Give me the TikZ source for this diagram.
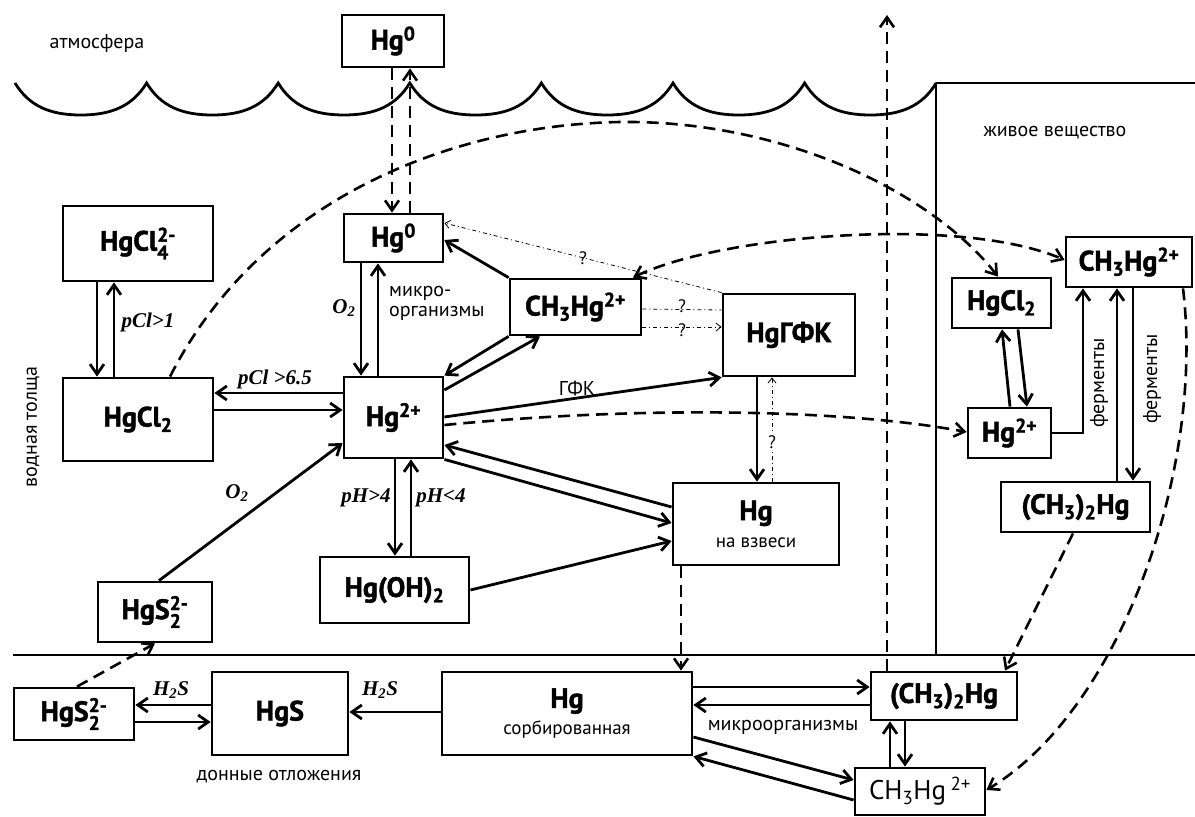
\documentclass[tikz,border=0pt]{standalone}
\usepackage{amsmath}
\usepackage{fontspec}
\setmainfont{PT Sans}[BoldFeatures={FakeBold=1.5}]
\newfontfamily\condfont{Liberation Serif}
\usetikzlibrary{arrows.meta}

\newcommand{\chup}[1]{$^{\text{#1}}$}
\newcommand{\chdn}[1]{$_{\text{#1}}$}
\newcommand{\chupdn}[2]{$^{\text{#1}}_{\text{#2}}$}
\newcommand{\boxnote}[1]{{\fontsize{19}{21}\selectfont\mdseries #1}}

\begin{document}
\begin{tikzpicture}[x=1pt, y=-1pt,
  >={Straight Barb[length=10pt,width=14pt]},
  box/.style={draw, line width=2.8pt, inner sep=0pt, align=center, font=\fontsize{28}{30}\selectfont\bfseries},
  lbl/.style={inner sep=1pt, font=\fontsize{20}{22}\selectfont},
  cond/.style={inner sep=1pt, font=\condfont\fontsize{21}{23}\selectfont\bfseries\itshape},
  qm/.style={inner sep=1pt, font=\fontsize{18}{20}\selectfont},
  arr/.style={->, line width=2.8pt},
  dsh/.style={->, line width=2.6pt, dash pattern=on 12pt off 7pt},
  dot/.style={line width=0.8pt, dash pattern=on 4pt off 3pt on 1pt off 3pt},
  dotarr/.style={dot, -{Straight Barb[length=5pt,width=8pt]}}
]
\useasboundingbox (0,0) rectangle (1195,817);

\draw[line width=2.8pt] (15,83) \foreach \i in {0,...,6} { .. controls ({29+131.6*\i},106) and ({50+131.6*\i},115) .. ({80.8+131.6*\i},115) .. controls ({111.6+131.6*\i},115) and ({132.6+131.6*\i},106) .. ({146.6+131.6*\i},83) };
\draw[line width=2pt] (936,83) -- (1195,83) (936,83) -- (936,655);
\draw[line width=2.8pt] (13,655) -- (1195,655);

\node[lbl] (atm) at (97,43) {атмосфера};
\node[lbl] (live) at (1055,133) {живое вещество};
\node[lbl, rotate=90] (water) at (33,427) {водная толща};
\node[lbl] (sed) at (279,777) {донные отложения};

\node[box, minimum width=102pt, minimum height=52pt] (hgtop) at (393,41) {Hg\chup{0}};
\node[box, minimum width=99pt, minimum height=48pt] (hgzero) at (393.5,238) {Hg\chup{0}};
\node[box, minimum width=150pt, minimum height=75pt] (clfour) at (138,243.5) {HgCl\chupdn{2-}{4}};
\node[box, minimum width=150pt, minimum height=83pt] (cltwo) at (138,419.5) {HgCl\chdn{2}};
\node[box, minimum width=99pt, minimum height=81pt] (hgtwo) at (393.5,417.5) {Hg\chup{2+}};
\node[box, minimum width=131pt, minimum height=56pt] (mehg) at (575.5,307) {CH\chdn{3}Hg\chup{2+}};
\node[box, minimum width=132pt, minimum height=82pt] (hgfk) at (789,335) {HgГФК};
\node[box, minimum width=166pt, minimum height=82pt] (hgsusp) at (756,524) {Hg\\[-3pt]\boxnote{на взвеси}};
\node[box, minimum width=149pt, minimum height=66pt] (hgoh) at (394.5,590) {Hg(OH)\chdn{2}};
\node[box, minimum width=114pt, minimum height=60pt] (hgsw) at (155,612) {HgS\chupdn{2-}{2}};
\node[box, minimum width=120pt, minimum height=52pt] (hgsb) at (74,714) {HgS\chupdn{2-}{2}};
\node[box, minimum width=136pt, minimum height=83pt] (hgs) at (280,713.5) {HgS};
\node[box, minimum width=250pt, minimum height=83pt] (hgsorb) at (567,713.5) {Hg\\[-3pt]\boxnote{сорбированная}};
\node[box, minimum width=146pt, minimum height=48pt] (dmhgb) at (944,696) {(CH\chdn{3})\chdn{2}Hg};
\node[box, minimum width=130pt, minimum height=47pt, font=\fontsize{27}{29}\selectfont] (mehgb) at (920,791.5) {CH\chdn{3}Hg\,\chup{2+}};
\node[box, minimum width=99pt, minimum height=50pt] (clr) at (1001.5,303) {HgCl\chdn{2}};
\node[box, minimum width=126pt, minimum height=50pt] (mehgr) at (1129,262) {CH\chdn{3}Hg\chup{2+}};
\node[box, minimum width=83pt, minimum height=50pt] (hgr) at (1009.5,433) {Hg\chup{2+}};
\node[box, minimum width=149pt, minimum height=50pt] (dmhgr) at (1075.5,507) {(CH\chdn{3})\chdn{2}Hg};
\coordinate (sky) at (887,15);

\node[cond] (c1) at (148,322) {pCl>1};
\node[cond] (c2) at (275,379) {pCl >6.5};
\node[cond] (c3) at (344,308) {O\textsubscript{2}};
\node[cond] (c4) at (237,493) {O\textsubscript{2}};
\node[cond] (c5) at (366,498) {pH>4};
\node[cond] (c6) at (441,498) {pH<4};
\node[cond] (c7) at (171,690) {H\textsubscript{2}S};
\node[cond] (c8) at (380,690) {H\textsubscript{2}S};
\node[lbl, anchor=west, align=left, font=\fontsize{20}{20}\selectfont] (micro) at (388,303) {микро-\\организмы};
\node[lbl] (micro2) at (783,727) {микроорганизмы};
\node[lbl] (gfk) at (577,388) {ГФК};
\node[lbl, rotate=90] (ferm1) at (1099,383) {ферменты};
\node[lbl, rotate=90] (ferm2) at (1152,379) {ферменты};

\draw[dsh] (hgtop.south -| 392,0) -- (hgzero.north -| 392,0);
\draw[dsh] (hgzero.north -| 410,0) -- (hgtop.south -| 410,0);
\draw[arr] (clfour.south -| 97,0) -- (cltwo.north -| 97,0);
\draw[arr] (cltwo.north -| 114,0) -- (clfour.south -| 114,0);
\draw[arr] (hgtwo.west |- 0,393) -- (cltwo.east |- 0,393);
\draw[arr] (cltwo.east |- 0,410) -- (hgtwo.west |- 0,410);
\draw[arr] (hgzero.south -| 361,0) -- (hgtwo.north -| 361,0);
\draw[arr] (hgtwo.north -| 378,0) -- (hgzero.south -| 378,0);
\draw[arr] (mehg.north west) -- (hgzero.east |- 0,240);
\draw[arr] (mehg.south west) -- (hgtwo.north east);
\draw[arr] (hgtwo.east |- 0,390) -- (mehg.south -| 540,0);
\draw[arr] (hgtwo.east |- 0,417) -- (hgfk.south west);
\draw[dotarr] (hgfk.north west) -- (hgzero.east |- 0,223) node[qm, midway] {?};
\draw[dot] (mehg.east |- 0,309) -- (hgfk.west |- 0,310) node[qm, midway, yshift=3pt] {?};
\draw[dotarr] (mehg.east |- 0,327) -- (hgfk.west |- 0,327) node[qm, midway, yshift=-3pt] {?};
\draw[arr] (hgfk.south -| 757,0) -- (hgsusp.north -| 757,0);
\draw[dotarr] (hgsusp.north -| 772,0) -- (hgfk.south -| 772,0) node[qm, pos=0.38, fill=white] {?};
\draw[arr] (hgsusp.west |- 0,507) -- (hgtwo.east |- 0,445);
\draw[arr] (hgtwo.south east) -- (hgsusp.west |- 0,523);
\draw[arr] (hgoh.east |- 0,590) -- (hgsusp.west |- 0,541);
\draw[arr] (hgtwo.south -| 395,0) -- (hgoh.north -| 395,0);
\draw[arr] (hgoh.north -| 411,0) -- (hgtwo.south -| 411,0);
\draw[arr] (hgsw.north -| 159,0) -- (hgtwo.west |- 0,443);
\draw[dsh] (hgsb.north -| 77,0) -- (hgsw.south -| 155,0);
\draw[arr] (hgs.west |- 0,705) -- (hgsb.east |- 0,705);
\draw[arr] (hgsb.east |- 0,722) -- (hgs.west |- 0,722);
\draw[arr] (hgsorb.west |- 0,712) -- (hgs.east |- 0,712);
\draw[dsh] (hgsusp.south -| 681,0) -- (hgsorb.north -| 681,0);
\draw[arr] (hgsorb.east |- 0,687) -- (dmhgb.west |- 0,687);
\draw[arr] (dmhgb.west |- 0,705) -- (hgsorb.east |- 0,705);
\draw[arr] (hgsorb.east |- 0,737) -- (mehgb.west |- 0,780);
\draw[arr] (mehgb.west |- 0,800) -- (hgsorb.south east);
\draw[arr] (mehgb.north -| 890,0) -- (dmhgb.south -| 890,0);
\draw[arr] (dmhgb.south -| 905,0) -- (mehgb.north -| 905,0);
\draw[dsh] (dmhgb.north -| 887,0) -- (sky);
\draw[dsh] (dmhgr.south -| 1073,0) -- (dmhgb.north -| 1005,0);
\draw[dsh] (mehgr.south -| 1183,0) .. controls (1205,470) and (1120,710) .. (mehgb.east |- 0,790);
\draw[dsh] (cltwo.north -| 170,0) .. controls (260,200) and (450,125) .. (620,122) .. controls (780,120) and (930,190) .. (clr.north -| 998,0);
\draw[dsh, <->] (mehg.north -| 633,0) .. controls (720,235) and (960,215) .. (mehgr.west |- 0,260);
\draw[dsh] (hgtwo.east |- 0,425) .. controls (650,405) and (850,410) .. (hgr.west |- 0,432);
\draw[arr] (hgr.north -| 1010,0) -- (clr.south -| 1002,0);
\draw[arr] (clr.south -| 1018,0) -- (hgr.north -| 1027,0);
\draw[arr] (hgr.east) -| (mehgr.south -| 1083,0);
\draw[arr] (dmhgr.north -| 1117,0) -- (mehgr.south -| 1117,0);
\draw[arr] (mehgr.south -| 1133,0) -- (dmhgr.north -| 1133,0);
\end{tikzpicture}
\end{document}
